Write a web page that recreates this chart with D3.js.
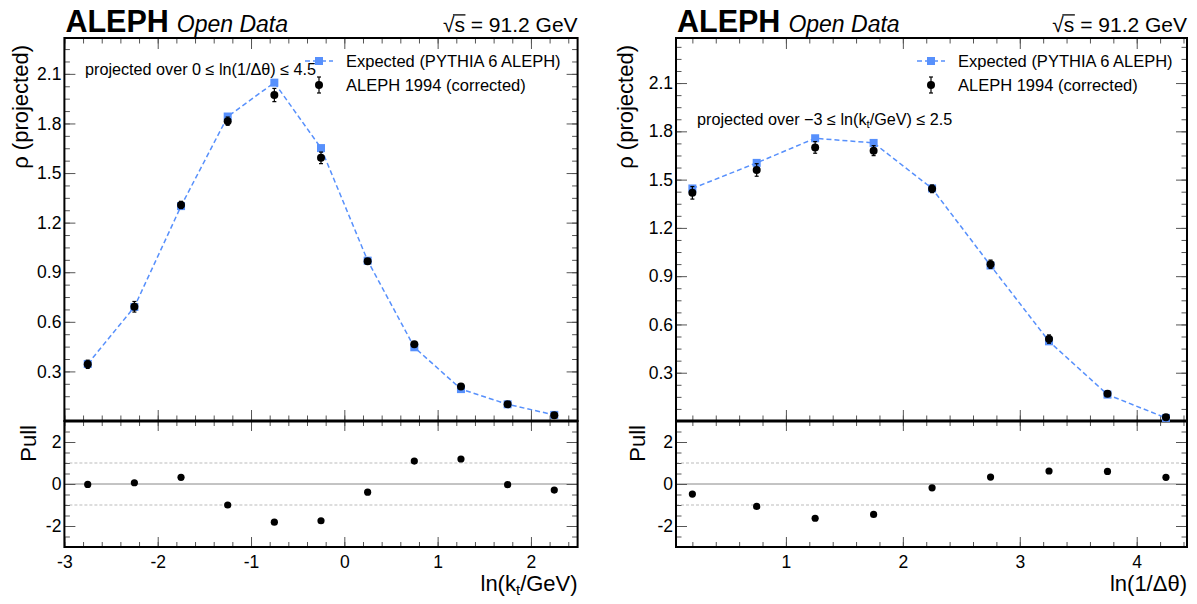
<!DOCTYPE html>
<html><head><meta charset="utf-8">
<script src="https://cdn.jsdelivr.net/npm/d3@7"></script>
<style>
body{margin:0;background:#fff;}
svg text{font-family:"Liberation Sans",Arial,Helvetica,sans-serif;}
</style></head><body>
<svg id="c" width="1197" height="604"></svg>
<script>
// ---- data: left panel (vs ln(kt/GeV)) ----
const ktX        = [-2.75,-2.25,-1.75,-1.25,-0.75,-0.25,0.25,0.75,1.25,1.75,2.25];
const ktExpected = [0.345,0.690,1.300,1.842,2.047,1.651,0.970,0.446,0.193,0.101,0.037];
const ktData     = [0.343,0.691,1.307,1.814,1.972,1.592,0.966,0.464,0.209,0.101,0.035];
const ktErr      = [0.025,0.032,0.022,0.025,0.040,0.035,0.015,0.012,0.010,0.008,0.005];
const ktPull     = [-0.02,0.06,0.32,-1.00,-1.82,-1.75,-0.39,1.09,1.19,-0.03,-0.29];
const ktXTicks   = [-3,-2,-1,0,1,2];

// ---- data: right panel (vs ln(1/dtheta)) ----
const thX        = [0.2,0.75,1.25,1.75,2.25,2.75,3.25,3.75,4.25];
const thExpected = [1.445,1.604,1.757,1.728,1.445,0.966,0.495,0.164,0.019];
const thData     = [1.418,1.560,1.700,1.680,1.443,0.974,0.509,0.170,0.024];
const thErr      = [0.039,0.039,0.036,0.031,0.024,0.026,0.026,0.015,0.010];
const thPull     = [-0.48,-1.07,-1.63,-1.45,-0.18,0.33,0.62,0.60,0.32];
const thXTicks   = [1,2,3,4];

const rhoTicks  = [0.3,0.6,0.9,1.2,1.5,1.8,2.1];
const pullTicks = [-2,0,2];
const legendLabels = ["Expected (PYTHIA 6 ALEPH)","ALEPH 1994 (corrected)"];

const BLUE = "#5790fc";
const FONT = "Liberation Sans, Arial, Helvetica, sans-serif";
const svg = d3.select("#c");

const yTop = 38, yMid = 421, yBot = 547;

const panels = [
  {x0:64.4, x1:577.6, xdom:[-3,2.5], ydom:[0,2.317], xs:ktX, exp:ktExpected, dat:ktData, err:ktErr, pull:ktPull,
   xMajor:ktXTicks, xMinor:d3.range(-3,2.5001,0.2), rhoX:28, pullX:36, legX:319, annot:{x:85,y:75}, xtitle:"kt"},
  {x0:676, x1:1187, xdom:[0.06,4.43], ydom:[0,2.38], xs:thX, exp:thExpected, dat:thData, err:thErr, pull:thPull,
   xMajor:thXTicks, xMinor:d3.range(0.2,4.4001,0.2), rhoX:633, pullX:645, legX:931, annot:{x:697,y:125}, xtitle:"th"}
];

function styleAxis(g, fs){
  g.select(".domain").remove();
  g.attr("font-family", FONT).attr("font-size", fs);
  g.selectAll(".tick line").attr("stroke","#555").attr("stroke-width",1);
  g.selectAll(".tick text").attr("fill","#000");
}
function axis(gen, scale, vals, size, fmt, pad, fs, tx, ty){
  const g = svg.append("g").attr("transform",`translate(${tx},${ty})`);
  g.call(gen(scale).tickValues(vals).tickSize(size).tickSizeOuter(0).tickFormat(fmt).tickPadding(pad||0));
  styleAxis(g, fs||17);
  return g;
}
const none = () => "";

panels.forEach((p, pi) => {
  const x = d3.scaleLinear().domain(p.xdom).range([p.x0, p.x1]);
  const y = d3.scaleLinear().domain(p.ydom).range([yMid, yTop]);
  const yp = d3.scaleLinear().domain([-3,3]).range([yBot, yMid]);
  const yMinor = d3.range(0, p.ydom[1], 0.075);
  const pMinor = d3.range(-3, 3.001, 0.5);

  // pull reference lines
  [-1,1].forEach(v => svg.append("line").attr("x1",p.x0).attr("x2",p.x1).attr("y1",yp(v)).attr("y2",yp(v))
     .attr("stroke","#bbb").attr("stroke-width",1).attr("stroke-dasharray","3,2"));
  svg.append("line").attr("x1",p.x0).attr("x2",p.x1).attr("y1",yp(0)).attr("y2",yp(0))
     .attr("stroke","#888").attr("stroke-width",1);

  // ---- upper axes ----
  axis(d3.axisLeft, y, rhoTicks, -11, d3.format(".1f"), 3, 17.5, p.x0, 0);
  axis(d3.axisLeft, y, yMinor, -5.5, none, 0, 17, p.x0, 0);
  axis(d3.axisRight, y, rhoTicks, -11, none, 0, 17, p.x1, 0);
  axis(d3.axisRight, y, yMinor, -5.5, none, 0, 17, p.x1, 0);
  axis(d3.axisTop, x, p.xMajor, -11, none, 0, 17, 0, yTop);
  axis(d3.axisTop, x, p.xMinor, -5.5, none, 0, 17, 0, yTop);
  axis(d3.axisBottom, x, p.xMajor, -11, none, 0, 17, 0, yMid);
  axis(d3.axisBottom, x, p.xMinor, -5.5, none, 0, 17, 0, yMid);
  // ---- lower axes ----
  axis(d3.axisTop, x, p.xMajor, -10, none, 0, 17, 0, yMid);
  axis(d3.axisTop, x, p.xMinor, -5, none, 0, 17, 0, yMid);
  axis(d3.axisBottom, x, p.xMajor, -10, d => String(d), 9, 17.5, 0, yBot);
  axis(d3.axisBottom, x, p.xMinor, -5, none, 0, 17, 0, yBot);
  axis(d3.axisLeft, yp, pullTicks, -11, d => String(d), 3, 17.5, p.x0, 0);
  axis(d3.axisLeft, yp, pMinor, -5.5, none, 0, 17, p.x0, 0);
  axis(d3.axisRight, yp, pullTicks, -11, none, 0, 17, p.x1, 0);
  axis(d3.axisRight, yp, pMinor, -5.5, none, 0, 17, p.x1, 0);

  // frames
  svg.append("rect").attr("x",p.x0).attr("y",yTop).attr("width",p.x1-p.x0).attr("height",yMid-yTop)
     .attr("fill","none").attr("stroke","#000").attr("stroke-width",2);
  svg.append("rect").attr("x",p.x0).attr("y",yMid).attr("width",p.x1-p.x0).attr("height",yBot-yMid)
     .attr("fill","none").attr("stroke","#000").attr("stroke-width",2);
  svg.append("line").attr("x1",p.x0).attr("x2",p.x1).attr("y1",yMid).attr("y2",yMid).attr("stroke","#000").attr("stroke-width",3);

  // expected line + squares
  const pts = p.xs.map((v,i)=>({x:v, e:p.exp[i], d:p.dat[i], s:p.err[i], pl:p.pull[i]}));
  svg.append("path").datum(pts).attr("d", d3.line().x(d=>x(d.x)).y(d=>y(d.e)))
     .attr("fill","none").attr("stroke",BLUE).attr("stroke-width",1.5).attr("stroke-dasharray","5,3");
  svg.selectAll(null).data(pts).join("rect").attr("x",d=>x(d.x)-4).attr("y",d=>y(d.e)-4)
     .attr("width",8).attr("height",8).attr("fill",BLUE);
  // data error bars + dots
  const eb = svg.append("g").attr("stroke","#000").attr("stroke-width",1.2);
  pts.forEach(d => {
    eb.append("line").attr("x1",x(d.x)).attr("x2",x(d.x)).attr("y1",y(d.d-d.s)).attr("y2",y(d.d+d.s));
    [d.d-d.s, d.d+d.s].forEach(v => eb.append("line").attr("x1",x(d.x)-2).attr("x2",x(d.x)+2).attr("y1",y(v)).attr("y2",y(v)));
  });
  svg.selectAll(null).data(pts).join("circle").attr("cx",d=>x(d.x)).attr("cy",d=>y(d.d)).attr("r",4).attr("fill","#000");
  // pulls
  svg.selectAll(null).data(pts).join("circle").attr("cx",d=>x(d.x)).attr("cy",d=>yp(d.pl)).attr("r",3.6).attr("fill","#000");

  // ---- header ----
  const hdr = svg.append("text").attr("x",p.x0+1).attr("y",31.7).attr("font-family",FONT);
  hdr.append("tspan").attr("font-weight","bold").attr("font-size",30.5).text("ALEPH");
  hdr.append("tspan").attr("font-style","italic").attr("font-size",23).attr("dx",8).text("Open Data");
  const sq = svg.append("text").attr("x",p.x1).attr("y",31.7).attr("text-anchor","end")
     .attr("font-family",FONT).attr("font-size",21).text("\u221As = 91.2 GeV");
  const n = sq.node();
  const e0 = n.getExtentOfChar(0), e1 = n.getExtentOfChar(1);
  svg.append("line").attr("x1",e0.x+e0.width-1.5).attr("x2",e1.x+e1.width+0.5)
     .attr("y1",e0.y+2.2).attr("y2",e0.y+2.2).attr("stroke","#000").attr("stroke-width",1.3);

  // ---- axis titles ----
  svg.append("text").attr("transform",`translate(${p.rhoX},45) rotate(-90)`).attr("text-anchor","end")
     .attr("font-size",22).text("\u03C1 (projected)");
  svg.append("text").attr("transform",`translate(${p.pullX},425) rotate(-90)`).attr("text-anchor","end")
     .attr("font-size",22).text("Pull");
  const xt = svg.append("text").attr("x",p.x1).attr("y",591).attr("text-anchor","end").attr("font-size",22);
  if (p.xtitle === "kt") {
    xt.append("tspan").text("ln(k");
    xt.append("tspan").attr("font-size",15).attr("dy",4).text("t");
    xt.append("tspan").attr("dy",-4).text("/GeV)");
  } else {
    xt.text("ln(1/\u0394\u03B8)");
  }

  // ---- annotation ----
  const an = svg.append("text").attr("x",p.annot.x).attr("y",p.annot.y).attr("font-size",16.2);
  if (pi === 0) {
    an.text("projected over 0 \u2264 ln(1/\u0394\u03B8) \u2264 4.5");
  } else {
    an.append("tspan").text("projected over \u22123 \u2264 ln(k");
    an.append("tspan").attr("font-size",11.5).attr("dy",3).text("t");
    an.append("tspan").attr("dy",-3).text("/GeV) \u2264 2.5");
  }

  // ---- legend ----
  const lx = p.legX;
  svg.append("line").attr("x1",lx-14).attr("x2",lx+14).attr("y1",61).attr("y2",61)
     .attr("stroke",BLUE).attr("stroke-width",1.5).attr("stroke-dasharray","5,3");
  svg.append("rect").attr("x",lx-4).attr("y",57).attr("width",8).attr("height",8).attr("fill",BLUE);
  svg.append("line").attr("x1",lx).attr("x2",lx).attr("y1",77).attr("y2",93).attr("stroke","#000").attr("stroke-width",1.2);
  [77,93].forEach(v => svg.append("line").attr("x1",lx-2).attr("x2",lx+2).attr("y1",v).attr("y2",v).attr("stroke","#000").attr("stroke-width",1.2));
  svg.append("circle").attr("cx",lx).attr("cy",85).attr("r",4).attr("fill","#000");
  legendLabels.forEach((t,i) => svg.append("text").attr("x",lx+27).attr("y",67+24*i).attr("font-size",16.5).text(t));
});
</script>
</body></html>
